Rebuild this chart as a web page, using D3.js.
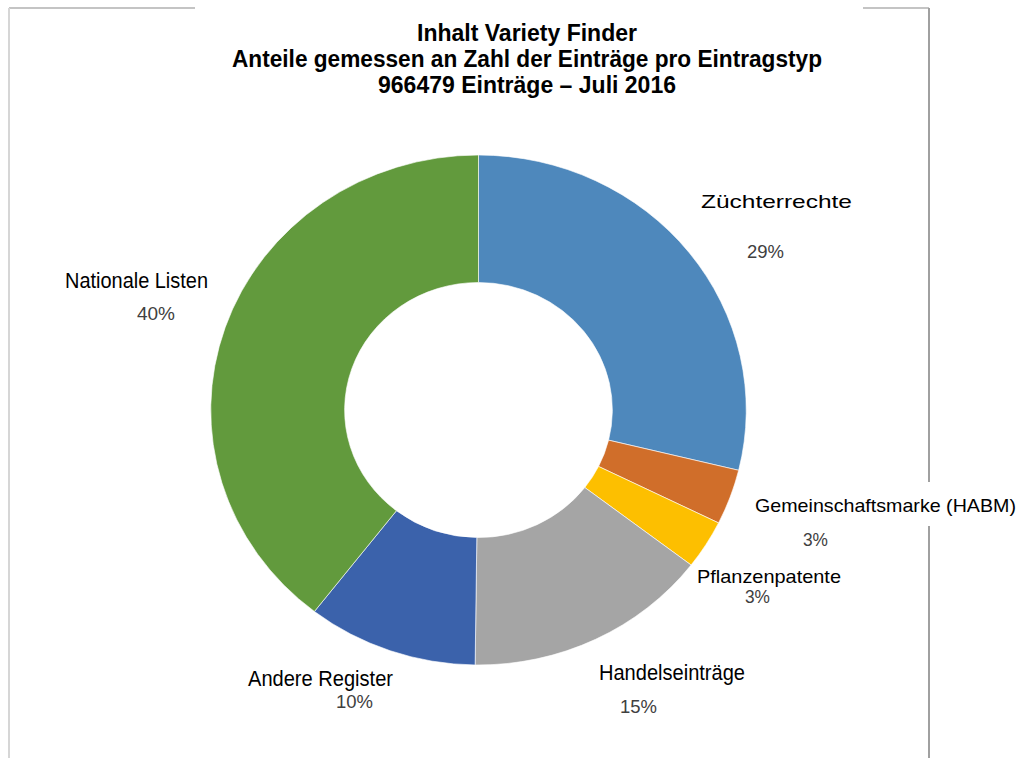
<!DOCTYPE html>
<meta charset="utf-8">
<title>Inhalt Variety Finder</title>
<style>
  body { margin: 0; background: #fff; }
  text { font-family: "Liberation Sans", Arial, sans-serif; }
</style>
<body>
<script src="https://cdn.jsdelivr.net/npm/d3@7"></script>
<script>
    // data: share per entry type, in drawing order from 12 o'clock
    var categories = ["Züchterrechte", "Gemeinschaftsmarke (HABM)", "Pflanzenpatente",
                      "Handelseinträge", "Andere Register", "Nationale Listen"];
    var shares = [28.8, 3.5, 3.1, 14.8, 10.3, 39.5];
    var pctLabels = ["29%", "3%", "3%", "15%", "10%", "40%"];
    var colors = ["#4e88bc", "#d06e2a", "#fdbf00", "#a5a5a5", "#3b62ab", "#629a3d"];
    var titleLines = ["Inhalt Variety Finder",
                      "Anteile gemessen an Zahl der Einträge pro Eintragstyp",
                      "966479 Einträge – Juli 2016"];

    var width = 1023,
        height = 758;

    var svg = d3.select("body").append("svg")
        .attr("width", width)
        .attr("height", height);

    // frame of the original chart area
    var frame = svg.append("g").attr("fill", "none");
    frame.append("path").attr("d", "M9,8H195M863,8H929").attr("stroke", "#c4c4c4").attr("stroke-width", 2);
    frame.append("line").attr("x1", 9).attr("x2", 9).attr("y1", 8).attr("y2", 758)
        .attr("stroke", "#d6d6d6").attr("stroke-width", 2);
    frame.append("line").attr("x1", 929).attr("x2", 929).attr("y1", 8).attr("y2", 758)
        .attr("stroke", "#a0a0a0").attr("stroke-width", 2);

    // title (condensed bold in the source)
    var titleWidths = [220, 590, 298];
    svg.append("g").selectAll("text")
        .data(titleLines)
        .join("text")
        .attr("x", 527)
        .attr("y", (d, i) => 41 + i * 26)
        .attr("text-anchor", "middle")
        .attr("font-size", 23)
        .attr("font-weight", "bold")
        .attr("fill", "#000")
        .attr("textLength", (d, i) => titleWidths[i])
        .attr("lengthAdjust", "spacingAndGlyphs")
        .text(d => d);

    // donut (source picture is slightly stretched horizontally)
    var cx = 478.5, cy = 410, rOuter = 255, rInner = 127.5, stretch = 1.05;

    var pie = d3.pie().sort(null).value(d => d);
    var arc = d3.arc().innerRadius(rInner).outerRadius(rOuter);

    var g = svg.append("g")
        .attr("transform", "translate(" + cx + "," + cy + ") scale(" + stretch + ",1)");

    g.selectAll("path")
        .data(pie(shares))
        .join("path")
        .attr("d", arc)
        .attr("fill", (d, i) => colors[i])
        .attr("stroke", "#fff")
        .attr("stroke-width", 0.6);

    // label layout (name left x, baseline, width, narrow; pct left x, baseline, width)
    var layout = [
        {nx: 701, ny: 208, nw: 151, narrow: false, px: 747, py: 258, pw: 37},
        {nx: 755, ny: 512, nw: 261, narrow: false, px: 803, py: 546, pw: 25, box: [743, 482, 280, 44]},
        {nx: 697, ny: 583, nw: 144, narrow: false, px: 745, py: 603, pw: 25},
        {nx: 599, ny: 680, nw: 146, narrow: true,  px: 620, py: 713, pw: 37},
        {nx: 248, ny: 686, nw: 145, narrow: true,  px: 336, py: 708, pw: 37},
        {nx: 65,  ny: 288, nw: 143, narrow: true,  px: 137, py: 320, pw: 38}
    ];

    var labels = svg.append("g").selectAll("g")
        .data(categories)
        .join("g");

    labels.filter((d, i) => layout[i].box)
        .append("rect")
        .attr("x", d => layout[categories.indexOf(d)].box[0])
        .attr("y", d => layout[categories.indexOf(d)].box[1])
        .attr("width", d => layout[categories.indexOf(d)].box[2])
        .attr("height", d => layout[categories.indexOf(d)].box[3])
        .attr("fill", "#fff");

    labels.append("text")
        .attr("x", (d, i) => layout[i].nx)
        .attr("y", (d, i) => layout[i].ny)
        .attr("font-size", (d, i) => layout[i].narrow ? 22 : 19)
        .attr("fill", "#000")
        .attr("textLength", (d, i) => layout[i].nw)
        .attr("lengthAdjust", "spacingAndGlyphs")
        .text(d => d);

    labels.append("text")
        .attr("x", (d, i) => layout[i].px)
        .attr("y", (d, i) => layout[i].py)
        .attr("font-size", 19)
        .attr("fill", "#404040")
        .attr("textLength", (d, i) => layout[i].pw)
        .attr("lengthAdjust", "spacingAndGlyphs")
        .text((d, i) => pctLabels[i]);
</script>
</body>
